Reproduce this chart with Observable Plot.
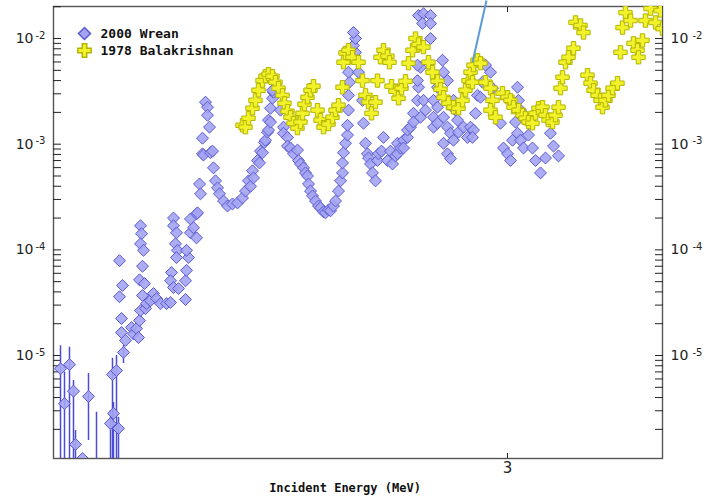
<!DOCTYPE html>
<html>
<head>
<meta charset="utf-8">
<script src="https://cdn.jsdelivr.net/npm/d3@7"></script>
<script src="https://cdn.jsdelivr.net/npm/@observablehq/plot@0.6"></script>
<style>
  html, body { margin: 0; padding: 0; background: #fff; }
  #chart svg { display: block; }
</style>
</head>
<body>
<div id="chart"></div>
<script>
// Incident energy (MeV), cross section
const wrean = [
  [2.106,7.5e-6],[2.114,3.5e-6],[2.124,8.2e-6],[2.132,4.6e-6],[2.136,1.44e-6],[2.150,1.06e-6],[2.162,4.1e-6],[2.178,5e-7],
  [2.206,2.27e-6],[2.210,6.6e-6],[2.212,2.83e-6],[2.218,7.2e-6],[2.222,2.04e-6],
  [2.224,7.9e-5],[2.230,4.6e-5],[2.224,3.6e-5],[2.228,2.24e-5],[2.228,1.65e-5],[2.236,1.39e-5],[2.232,1.07e-5],
  [2.248,1.84e-5],[2.252,1.6e-5],[2.258,1.8e-5],[2.262,1.48e-5],[2.264,2.14e-5],[2.266,2.66e-5],[2.276,2.78e-5],
  [2.278,3.1e-5],[2.286,3.3e-5],[2.292,3.86e-5],[2.298,3.46e-5],[2.306,3.1e-5],[2.318,3.1e-5],[2.326,3.17e-5],
  [2.266,1.69e-4],[2.268,1.42e-4],[2.266,1.14e-4],[2.272,9.9e-5],[2.270,7e-5],[2.264,5.2e-5],[2.274,4.8e-5],[2.270,3.7e-5],
  [2.332,2.0e-4],[2.332,1.69e-4],[2.338,1.45e-4],[2.336,1.14e-4],[2.340,9.9e-5],[2.338,8.45e-5],[2.328,6.1e-5],
  [2.326,5.1e-5],[2.332,4.4e-5],[2.342,4.3e-5],[2.356,3.39e-5],[2.356,5.1e-5],[2.358,6.4e-5],[2.362,8.45e-5],
  [2.358,9.9e-5],[2.366,1.45e-4],[2.366,1.96e-4],[2.378,2.19e-4],[2.372,1.62e-4],[2.378,1.3e-4],[2.380,2.24e-4],
  [2.384,4.2e-4],[2.386,3.39e-4],[2.390,8.1e-4],[2.390,1.14e-3],[2.392,7.9e-4],[2.396,2.5e-3],[2.400,2.24e-3],
  [2.400,1.88e-3],[2.404,1.45e-3],[2.406,8.3e-4],[2.410,8.6e-4],[2.412,5.97e-4],[2.416,4.5e-4],[2.420,3.86e-4],
  [2.424,3.39e-4],[2.432,2.9e-4],[2.440,2.6e-4],[2.450,2.72e-4],[2.460,2.78e-4],[2.470,3.1e-4],[2.476,3.6e-4],
  [2.482,4.5e-4],[2.486,4.0e-4],[2.490,5.6e-4],[2.492,4.8e-4],[2.500,7e-4],[2.504,6.65e-4],[2.506,8.6e-4],
  [2.510,8.3e-4],[2.514,1.04e-3],[2.516,1.09e-3],[2.520,1.3e-3],[2.522,1.69e-3],[2.522,1.36e-3],[2.526,2.19e-3],
  [2.526,1.62e-3],[2.530,2.72e-3],[2.532,3.1e-3],[2.530,3.24e-3],
  [2.546,2.1e-3],[2.552,1.45e-3],[2.552,1.27e-3],[2.560,1.16e-3],[2.560,9.6e-4],[2.566,9.2e-4],[2.572,8.1e-4],
  [2.580,8.8e-4],[2.582,7e-4],[2.586,6.5e-4],[2.592,5.97e-4],[2.596,5.35e-4],[2.600,5.0e-4],[2.602,4.2e-4],
  [2.606,3.6e-4],[2.610,3.24e-4],[2.616,2.9e-4],[2.622,2.6e-4],[2.626,2.5e-4],[2.632,2.29e-4],[2.636,2.24e-4],
  [2.642,2.39e-4],[2.646,2.34e-4],[2.652,2.6e-4],[2.656,2.9e-4],[2.662,3.6e-4],[2.666,4.5e-4],[2.670,5.35e-4],
  [2.670,6.65e-4],[2.672,8.3e-4],[2.676,1.02e-3],[2.680,1.22e-3],[2.680,1.51e-3],[2.682,2.1e-3],[2.682,2.9e-3],
  [2.684,3.86e-3],[2.682,4.8e-3],[2.690,6.5e-3],[2.696,7.4e-3],[2.692,8.6e-3],[2.696,1.0e-2],[2.692,1.14e-2],
  [2.702,4.8e-3],[2.710,2.6e-3],[2.712,1.58e-3],[2.716,1.02e-3],[2.720,8.1e-4],[2.722,7.4e-4],[2.726,6.5e-4],
  [2.730,5.35e-4],[2.736,4.5e-4],[2.740,7e-4],[2.742,8.1e-4],[2.748,8.6e-4],[2.752,1.16e-3],[2.760,7e-4],
  [2.766,8.6e-4],[2.770,6.5e-4],[2.776,7.75e-4],[2.780,8.1e-4],[2.780,1.02e-3],[2.786,9.2e-4],[2.792,1.09e-3],
  [2.792,9.2e-4],[2.800,1.16e-3],[2.800,1.36e-3],[2.806,1.45e-3],[2.812,1.96e-3],[2.812,1.62e-3],[2.820,2.6e-3],
  [2.822,3.46e-3],[2.820,4.0e-3],[2.826,5.35e-3],[2.820,5.6e-3],[2.832,2.6e-3],[2.836,2.1e-3],[2.826,1.8e-3],
  [2.822,1.65e-2],[2.832,1.72e-2],[2.846,1.65e-2],[2.830,1.39e-2],[2.846,1.39e-2],[2.846,1.0e-2],
  [2.852,2.6e-3],[2.852,1.8e-3],[2.852,1.45e-3],[2.860,3.46e-3],[2.860,2.24e-3],[2.860,1.58e-3],[2.870,6.23e-3],
  [2.872,4.8e-3],[2.880,4.0e-3],[2.872,1.8e-3],[2.872,1.02e-3],[2.880,1.45e-3],[2.880,8.1e-4],[2.886,1.27e-3],
  [2.886,7.3e-4],[2.892,2.6e-3],[2.892,1.09e-3],[2.896,2.1e-3],[2.900,1.69e-3],[2.902,1.3e-3],[2.912,1.45e-3],
  [2.920,1.16e-3],[2.926,1.45e-3],[2.932,1.36e-3],[2.930,1.16e-3],[2.936,1.96e-3],[2.940,2.9e-3],[2.946,2.78e-3],
  [2.950,3.86e-3],[2.956,5.6e-3],[2.966,4.8e-3],[2.970,3.39e-3],[2.986,1.58e-3],[2.992,9.2e-4],[3.000,8.1e-4],
  [3.006,7e-4],[3.010,1.09e-3],[3.016,1.62e-3],[3.020,3.46e-3],[3.020,1.27e-3],[3.022,2.6e-3],[3.026,2.1e-3],
  [3.026,1.09e-3],[3.032,9.2e-4],[3.042,1.22e-3],[3.050,9.2e-4],[3.056,7e-4],[3.066,5.35e-4],[3.076,7.4e-4],
  [3.086,1.27e-3],[3.092,9.6e-4],[3.102,7.75e-4]
];

// Wrean uncertainties: energy, lower, upper
const wreanErrors = [
  [2.106,1e-8,1.24e-5],[2.114,1e-8,7e-6],[2.124,1e-8,1.2e-5],[2.132,1e-8,5.8e-6],[2.136,1e-8,1.95e-6],
  [2.162,1.57e-6,6.75e-6],[2.178,1e-8,2.9e-6],[2.206,1e-8,3.0e-6],[2.210,1e-8,9.4e-6],[2.212,1e-8,3.6e-6],
  [2.218,1e-8,1.0e-5],[2.222,1e-8,2.6e-6],[2.232,8.4e-6,1.24e-5]
];

const balakrishnan = [
  [2.470,1.51e-3],[2.476,1.45e-3],[2.482,1.76e-3],[2.490,2.19e-3],[2.496,2.6e-3],[2.502,3.24e-3],[2.510,4.0e-3],
  [2.516,4.4e-3],[2.522,4.6e-3],[2.530,4.4e-3],[2.536,3.86e-3],[2.542,3.39e-3],[2.550,2.9e-3],[2.554,2.44e-3],
  [2.560,2.05e-3],[2.566,1.8e-3],[2.572,1.58e-3],[2.580,1.42e-3],[2.586,1.62e-3],[2.590,1.96e-3],[2.594,2.39e-3],
  [2.600,2.78e-3],[2.606,3.24e-3],[2.612,3.54e-3],[2.620,2.1e-3],[2.626,1.69e-3],[2.632,1.45e-3],[2.642,1.55e-3],
  [2.650,1.8e-3],[2.656,2.1e-3],[2.662,2.34e-3],[2.670,3.46e-3],[2.672,5.97e-3],[2.676,7.3e-3],[2.682,7.75e-3],
  [2.690,6.65e-3],[2.702,5.97e-3],[2.710,4.0e-3],[2.716,2.9e-3],[2.722,2.5e-3],[2.728,1.96e-3],[2.736,2.5e-3],
  [2.740,4.0e-3],[2.746,6.65e-3],[2.752,7.75e-3],[2.760,6.8e-3],[2.764,5.97e-3],[2.768,3.54e-3],[2.776,3.17e-3],
  [2.782,2.72e-3],[2.788,3.39e-3],[2.796,3.94e-3],[2.802,5.84e-3],[2.810,7.75e-3],[2.816,1.0e-2],[2.822,8.8e-3],
  [2.832,8.3e-3],[2.842,5.97e-3],[2.850,4.8e-3],[2.860,3.94e-3],[2.866,3.31e-3],[2.872,2.78e-3],[2.882,2.44e-3],
  [2.892,2.24e-3],[2.902,2.19e-3],[2.910,2.6e-3],[2.916,3.24e-3],[2.922,4.0e-3],[2.926,4.8e-3],[2.932,5.6e-3],
  [2.940,6.23e-3],[2.946,5.84e-3],[2.930,3.86e-3],[2.956,3.86e-3],[2.966,3.39e-3],[2.970,2.6e-3],[2.966,2.1e-3],
  [2.976,1.8e-3],[2.990,3.04e-3],[3.000,2.78e-3],[3.006,2.6e-3],[3.012,2.24e-3],[3.022,2.1e-3],[3.030,1.88e-3],
  [3.036,1.76e-3],[3.042,1.62e-3],[3.050,1.58e-3],[3.056,1.96e-3],[3.062,2.19e-3],[3.070,2.24e-3],[3.076,1.88e-3],
  [3.082,1.69e-3],[3.090,1.62e-3],[3.096,1.88e-3],[3.102,2.24e-3],[3.106,3.39e-3],[3.110,4.3e-3],[3.116,5.97e-3],
  [3.122,6.65e-3],[3.132,8.1e-3],[3.136,1.42e-2],[3.146,1.33e-2],[3.152,1.14e-2],[3.160,4.5e-3],[3.166,3.78e-3],
  [3.172,3.24e-3],[3.180,2.9e-3],[3.186,2.6e-3],[3.190,2.24e-3],[3.196,2.6e-3],[3.202,2.9e-3],[3.210,3.39e-3],
  [3.220,3.78e-3],[3.226,7.4e-3],[3.230,1.27e-2],[3.236,1.76e-2],[3.246,1.48e-2],[3.252,9.0e-3],[3.260,7.75e-3],
  [3.262,6.65e-3],[3.270,9.6e-3],[3.276,1.48e-2],[3.286,1.92e-2],[3.296,1.42e-2],[3.306,1.84e-2],[3.310,1.24e-2]
];

const seriesNames = ["2000 Wrean", "1978 Balakrishnan"];
const xTickValues = [3];
const xTickLabels = ["3"];
const yDecades = [1e-5, 1e-4, 1e-3, 1e-2];
const yMinorTicks = [];
for (const d of [1e-6, 1e-5, 1e-4, 1e-3, 1e-2]) for (let k = 1; k <= 9; k++) yMinorTicks.push(d * k);
// pointer line (annotation) from the source slide
const pointer = [{e1: 2.930, s1: 5.97e-3, e2: 2.958, s2: 2.29e-2}];

const yDomain = [1.06e-6, 0.0201];
const blueFill = "#a4a4f2", blueStroke = "#5a5ad2";
const yellowFill = "#f2f22a", yellowStroke = "#b4b400";
const mono = "DejaVu Sans Mono";
const expText = d => "-" + Math.round(-Math.log10(d));
const minor = yMinorTicks.filter(v => v >= yDomain[0] && v <= yDomain[1]);

const chart = Plot.plot({
  width: 706,
  height: 496,
  marginLeft: 53,
  marginRight: 44,
  marginTop: 6,
  marginBottom: 38,
  style: {fontFamily: "DejaVu Sans", fontSize: "14px", background: "#fff", overflow: "visible"},
  x: {type: "linear", domain: [2.092, 3.310], axis: null},
  y: {type: "log", domain: yDomain, axis: null},
  marks: [
    Plot.frame({stroke: "#555", strokeWidth: 1.4}),
    // ticks (inward)
    Plot.axisY(minor, {anchor: "left", tickSize: -8, tickFormat: () => "", label: null, stroke: "#222"}),
    Plot.axisY(minor, {anchor: "right", tickSize: -8, tickFormat: () => "", label: null, stroke: "#222"}),
    Plot.axisX(xTickValues, {anchor: "bottom", tickSize: -5, tickFormat: () => "", label: null, stroke: "#222"}),
    Plot.axisX(xTickValues, {anchor: "top", tickSize: -5, tickFormat: () => "", label: null, stroke: "#222"}),
    Plot.axisX(xTickValues, {anchor: "bottom", tickSize: 0, tickPadding: 4, fontSize: 15, label: null, fill: "#222",
      tickFormat: (d, i) => xTickLabels[xTickValues.indexOf(d)]}),
    // y tick labels (10 with superscript exponent), left and right
    Plot.text(yDecades, {y: d => d, frameAnchor: "left", text: () => "10", textAnchor: "end", dx: -20, fontSize: 14, fill: "#222"}),
    Plot.text(yDecades, {y: d => d, frameAnchor: "left", text: expText, textAnchor: "start", dx: -18, dy: -3, fontSize: 10, fill: "#222"}),
    Plot.text(yDecades, {y: d => d, frameAnchor: "right", text: () => "10", textAnchor: "start", dx: 8, fontSize: 14, fill: "#222"}),
    Plot.text(yDecades, {y: d => d, frameAnchor: "right", text: expText, textAnchor: "start", dx: 30, dy: -3, fontSize: 10, fill: "#222"}),
    // x label
    Plot.text(["Incident Energy (MeV)"], {x: null, y: null, text: d => d, frameAnchor: "bottom", lineAnchor: "middle", dy: 30, dx: -13, fontFamily: mono, fontWeight: "bold", fontSize: 12, fill: "#111"}),
    // error bars
    Plot.ruleX(wreanErrors, {x: d => d[0], y1: d => d[1], y2: d => d[2], stroke: "#4b4bd6", strokeWidth: 1.5, clip: true}),
    // data
    Plot.dot(wrean, {x: d => d[0], y: d => d[1], symbol: "diamond2", r: 5.4, fill: blueFill, fillOpacity: 0.9, stroke: blueStroke, strokeWidth: 1, clip: true}),
    Plot.dot(balakrishnan, {x: d => d[0], y: d => d[1], symbol: "cross", r: 5.6, fill: yellowFill, stroke: yellowStroke, strokeWidth: 1, clip: true}),
    // pointer line
    Plot.link(pointer, {x1: "e1", y1: "s1", x2: "e2", y2: "s2", stroke: "#5b9bd5", strokeWidth: 2}),
    // legend
    Plot.dot([seriesNames[0]], {x: null, y: null, frameAnchor: "top-left", dx: 31, dy: 27, symbol: "diamond2", r: 5.4, fill: blueFill, stroke: blueStroke}),
    Plot.dot([seriesNames[1]], {x: null, y: null, frameAnchor: "top-left", dx: 31, dy: 44, symbol: "cross", r: 5.6, fill: yellowFill, stroke: yellowStroke}),
    Plot.text([seriesNames[0]], {x: null, y: null, text: d => d, frameAnchor: "top-left", lineAnchor: "middle", dx: 47, dy: 27, textAnchor: "start", fontFamily: mono, fontWeight: "bold", fontSize: 13, fill: "#111"}),
    Plot.text([seriesNames[1]], {x: null, y: null, text: d => d, frameAnchor: "top-left", lineAnchor: "middle", dx: 47, dy: 44, textAnchor: "start", fontFamily: mono, fontWeight: "bold", fontSize: 13, fill: "#111"})
  ]
});
document.getElementById("chart").appendChild(chart);
</script>
</body>
</html>
